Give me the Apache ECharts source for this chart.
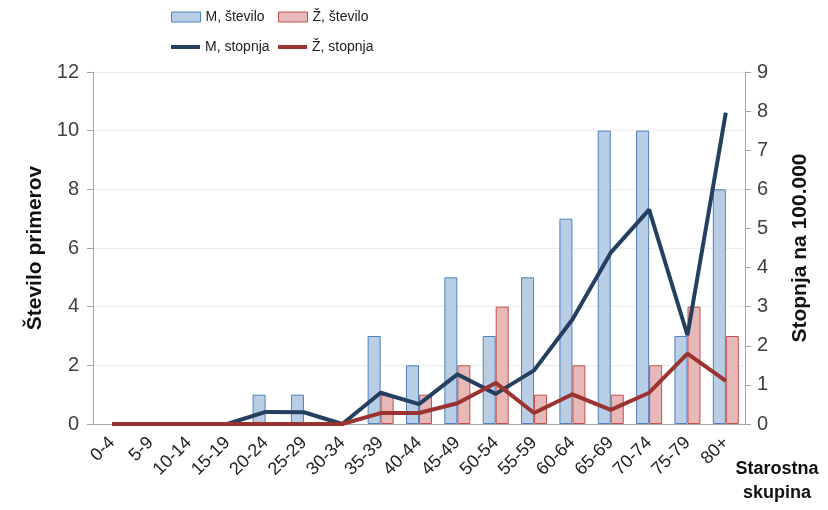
<!DOCTYPE html>
<html>
<head>
<meta charset="utf-8">
<script src="https://cdn.jsdelivr.net/npm/echarts@6/dist/echarts.min.js"></script>
<style>
  html, body { margin: 0; padding: 0; background: #fff; }
  #chart { width: 828px; height: 510px; }
</style>
</head>
<body>
<div id="chart"></div>
<script>
// Starostne skupine
const ageGroups = ['0-4', '5-9', '10-14', '15-19', '20-24', '25-29', '30-34', '35-39', '40-44',
  '45-49', '50-54', '55-59', '60-64', '65-69', '70-74', '75-79', '80+'];

// Število primerov (leva os)
const menCount = [0, 0, 0, 0, 1, 1, 0, 3, 2, 5, 3, 5, 7, 10, 10, 3, 8];
const womenCount = [0, 0, 0, 0, 0, 0, 0, 1, 1, 2, 4, 1, 2, 1, 2, 4, 3];

// Stopnja na 100.000 (desna os)
const menRate = [0, 0, 0, 0, 0.31, 0.30, 0, 0.80, 0.51, 1.27, 0.77, 1.37, 2.67, 4.38, 5.48, 2.27, 7.96];
const womenRate = [0, 0, 0, 0, 0, 0, 0, 0.28, 0.28, 0.53, 1.05, 0.28, 0.76, 0.36, 0.80, 1.80, 1.10];

const textColor = '#404040';
const axisGray = '#a6a6a6';
const baseFont = '"Liberation Sans", Arial, sans-serif';

// zero counts are left empty so no flat outline is drawn on the axis
const asBars = arr => arr.map(v => (v === 0 ? null : v));

const chart = echarts.init(document.getElementById('chart'), null, { renderer: 'canvas' });

function legendAt(name, left, top, isLine) {
  return {
    data: [name],
    left: left,
    top: top,
    padding: 0,
    icon: 'rect',
    itemWidth: 29,
    itemHeight: isLine ? 4 : 10,
    itemGap: 0,
    itemStyle: isLine ? { borderWidth: 0 } : { borderWidth: 1 },
    selectedMode: false,
    textStyle: { fontFamily: baseFont, fontSize: 14, color: '#222' }
  };
}

chart.setOption({
  animation: false,
  backgroundColor: '#ffffff',
  textStyle: { fontFamily: baseFont },
  legend: [
    legendAt('M, število', 171, 10, false),
    legendAt('Ž, število', 278, 10, false),
    legendAt('M, stopnja', 171, 40, true),
    legendAt('Ž, stopnja', 278, 40, true)
  ],
  graphic: [
    {
      type: 'text',
      x: 777,
      y: 457,
      style: {
        text: 'Starostna\nskupina',
        font: 'bold 18px "Liberation Sans", Arial, sans-serif',
        fill: '#111',
        align: 'center',
        verticalAlign: 'top',
        lineHeight: 24
      }
    }
  ],
  grid: { left: 93, right: 83, top: 72, bottom: 86, containLabel: false, outerBoundsMode: 'none' },
  xAxis: {
    type: 'category',
    data: ageGroups,
    boundaryGap: true,
    axisLine: { lineStyle: { color: axisGray, width: 1 } },
    axisTick: { show: false },
    axisLabel: { rotate: 45, fontSize: 18, color: '#222', margin: 16, interval: 0 }
  },
  yAxis: [
    {
      type: 'value',
      min: 0, max: 12, interval: 2,
      axisLine: { show: true, lineStyle: { color: axisGray } },
      axisTick: { show: true, inside: false, length: 6, lineStyle: { color: axisGray } },
      axisLabel: { fontSize: 20, color: textColor, margin: 14 },
      splitLine: { show: true, lineStyle: { color: '#ebebeb', width: 1 } },
      name: 'Število primerov',
      nameLocation: 'middle',
      nameRotate: 90,
      nameGap: 47,
      nameTextStyle: { fontSize: 21, fontWeight: 'bold', color: '#111' }
    },
    {
      type: 'value',
      min: 0, max: 9, interval: 1,
      position: 'right',
      axisLine: { show: true, lineStyle: { color: axisGray } },
      axisTick: { show: true, inside: false, length: 6, lineStyle: { color: axisGray } },
      axisLabel: { fontSize: 20, color: textColor, margin: 12 },
      splitLine: { show: false },
      name: 'Stopnja na 100.000',
      nameLocation: 'middle',
      nameRotate: 90,
      nameGap: 45,
      nameTextStyle: { fontSize: 21, fontWeight: 'bold', color: '#111' }
    }
  ],
  series: [
    {
      name: 'M, število',
      type: 'bar',
      yAxisIndex: 0,
      data: asBars(menCount),
      barWidth: 13,
      barGap: '0%',
      itemStyle: { color: '#b9cde5', borderColor: '#4f81bd', borderWidth: 1 }
    },
    {
      name: 'Ž, število',
      type: 'bar',
      yAxisIndex: 0,
      data: asBars(womenCount),
      barWidth: 13,
      barGap: '0%',
      itemStyle: { color: '#e6b9b8', borderColor: '#c0504d', borderWidth: 1 }
    },
    {
      name: 'M, stopnja',
      type: 'line',
      yAxisIndex: 1,
      data: menRate,
      symbol: 'none',
      z: 5,
      lineStyle: { color: '#243f60', width: 4 },
      itemStyle: { color: '#243f60' }
    },
    {
      name: 'Ž, stopnja',
      type: 'line',
      yAxisIndex: 1,
      data: womenRate,
      symbol: 'none',
      z: 6,
      lineStyle: { color: '#9b3431', width: 4 },
      itemStyle: { color: '#9b3431' }
    }
  ]
});
</script>
</body>
</html>
